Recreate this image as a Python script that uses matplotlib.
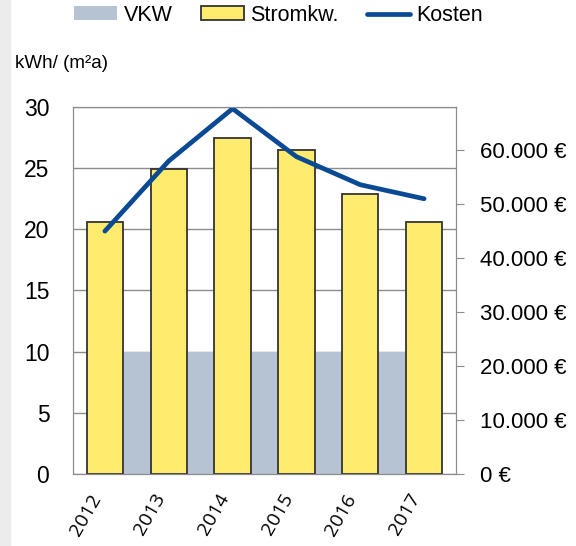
import numpy as np
import matplotlib.pyplot as plt
import matplotlib.transforms as mtransforms
from matplotlib.patches import Rectangle

jahre = ["2012", "2013", "2014", "2015", "2016", "2017"]
vkw = [10, 10, 10, 10, 10, 10]
stromkw = [20.6, 24.9, 27.5, 26.5, 22.9, 20.6]
kosten = [45000, 58000, 67700, 58800, 53600, 51000]

plt.rcParams['font.family'] = ['Liberation Sans', 'DejaVu Sans']

fig = plt.figure(figsize=(5.76, 5.46), dpi=100)
fig.patches.append(Rectangle((0, 0), 0.018, 1, transform=fig.transFigure,
                             color="#ececec", zorder=0))
ax = fig.add_axes([0.1267, 0.1319, 0.665, 0.6721])
x = np.arange(len(jahre))

rahmen = "#8c8c8c"
ax.set_axisbelow(True)
ax.grid(axis="y", color=rahmen, lw=1)
a = ax.fill_between(x, 0, vkw, color="#b5c3d3", lw=0, zorder=1, label="VKW")
b = ax.bar(x, stromkw, width=0.57, color="#ffec6e", edgecolor="#333333",
           lw=1.3, zorder=2, label="Stromkw.")
ax.set_xlim(-0.5, 5.5)
ax.set_ylim(0, 30)
ax.set_yticks(range(0, 31, 5))
ax.set_xticks(x)
ax.set_xticklabels(jahre, rotation=60, ha="right", family="Open Sans",
                   fontsize=14)
verschub = mtransforms.ScaledTranslation(8 / 100, 0, fig.dpi_scale_trans)
for t in ax.get_xticklabels():
    t.set_transform(t.get_transform() + verschub)
ax.tick_params(axis="x", length=0, pad=12)
ax.tick_params(axis="y", length=0, pad=17, labelsize=16.5)
for s in ax.spines.values():
    s.set_color(rahmen)

ax2 = ax.twinx()
l, = ax2.plot(x, kosten, color="#0a4a94", lw=3.4, solid_capstyle="round",
              label="Kosten")
ax2.set_ylim(0, 68000)
ax2.set_yticks(range(0, 60001, 10000))
ax2.set_yticklabels([f"{v:,} €".replace(",", ".") for v in range(0, 60001, 10000)])
ax2.tick_params(axis="y", length=6, color=rahmen, pad=11, labelsize=16)
for s in ax2.spines.values():
    s.set_color(rahmen)

fig.text(0.026, 0.883, "kWh/ (m²a)", fontsize=13.5, va="center")

fig.legend(handles=[a, b, l], loc="center", bbox_to_anchor=(0.4835, 0.972),
           ncol=3, frameon=False, fontsize=15.5, handlelength=2.0,
           handletextpad=0.3, columnspacing=1.3, handleheight=0.6)

plt.savefig("out.png", dpi=100)
